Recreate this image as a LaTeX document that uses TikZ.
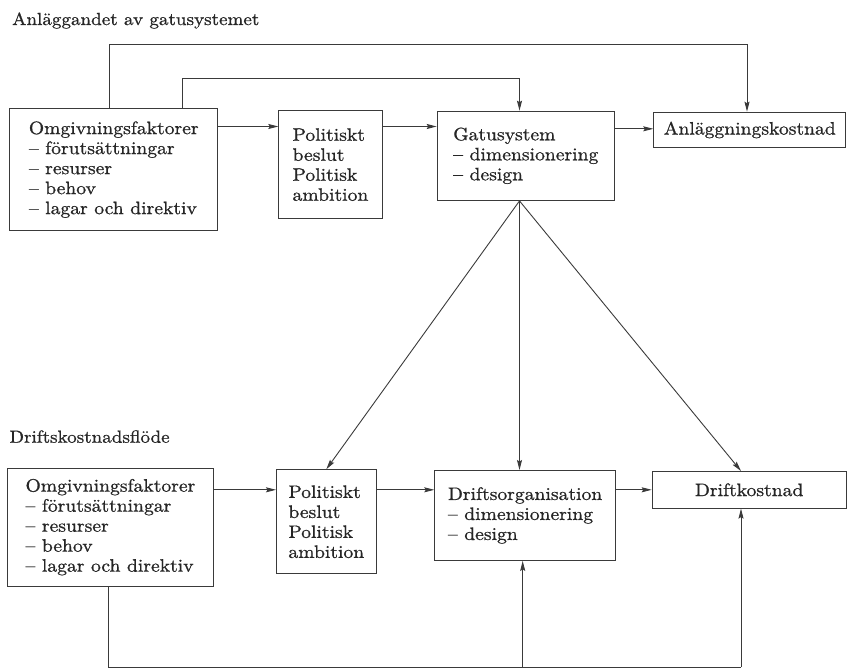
\documentclass[tikz,border=0pt]{standalone}
\usepackage{fontspec}
\setmainfont{lmroman10-regular.otf}[FakeStretch=1.09,FakeBold=0.9]
\usetikzlibrary{arrows.meta,calc}
\definecolor{linecol}{HTML}{3A3A3A}
\definecolor{txtcol}{HTML}{262626}
\begin{document}
\begin{tikzpicture}[x=1pt,y=-1pt,
  font=\fontsize{18}{20}\selectfont,
  box/.style={draw=linecol, line width=0.9pt, rectangle, anchor=north west, inner sep=0pt, align=left, text=txtcol},
  ln/.style={draw=linecol, line width=0.9pt},
  arr/.style={draw=linecol, line width=0.9pt, -{Stealth[length=10pt,width=5pt,inset=1.5pt]}},
  head/.style={anchor=base west, inner sep=0pt, text=txtcol, font=\fontsize{17.5}{20}\selectfont}]
\useasboundingbox (0,0) rectangle (847,669);

% headings
\node[head] (t1) at (12,25) {Anläggandet av gatusystemet};
\node[head] (t2) at (9.3,442.7) {Driftskostnadsflöde};

% top row
\node[box, minimum width=208pt, minimum height=121.7pt] (o1) at (9.3,108.3)
  {Omgivningsfaktorer\\– förutsättningar\\– resurser\\– behov\\– lagar och direktiv};
\node[box, minimum width=103.4pt, minimum height=108.3pt] (p1) at (278.3,110)
  {Politiskt\\beslut\\Politisk\\ambition};
\node[box, minimum width=177.3pt, minimum height=89.3pt] (g1) at (436.7,110.7)
  {Gatusystem\\– dimensionering\\– design};
\node[box, minimum width=192pt, minimum height=35.6pt] (a1) at (653.3,111.7)
  {Anläggningskostnad};

% bottom row
\node[box, minimum width=206.6pt, minimum height=118pt] (o2) at (6.7,467.7)
  {Omgivningsfaktorer\\– förutsättningar\\– resurser\\– behov\\– lagar och direktiv};
\node[box, minimum width=99.7pt, minimum height=104pt] (p2) at (276,469.3)
  {Politiskt\\beslut\\Politisk\\ambition};
\node[box, minimum width=180.7pt, minimum height=90pt] (d2) at (434.3,470)
  {Driftsorganisation\\– dimensionering\\– design};
\node[box, minimum width=194pt, minimum height=36.7pt] (k2) at (651.7,471)
  {Driftkostnad};

% helper coordinates
\coordinate (r1) at (0,126.5);
\coordinate (r2) at (0,128.8);
\coordinate (u1) at (109,44);
\coordinate (u1r) at (747,44);
\coordinate (u2) at (182,78);
\coordinate (u2r) at (519.5,78);
\coordinate (gb) at (g1.south -| u2r);
\coordinate (kx) at (741,0);
\coordinate (dx) at (522.7,0);
\coordinate (b0) at (108.3,667);

% top row connectors
\draw[arr] (o1.east |- r1) -- (p1.west |- r1);
\draw[arr] (p1.east |- r1) -- (g1.west |- r1);
\draw[arr] (g1.east |- r2) -- (a1.west |- r2);
\draw[arr] (o1.north -| u1) -- (u1) -- (u1r) -- (a1.north -| u1r);
\draw[arr] (o1.north -| u2) -- (u2) -- (u2r) -- (g1.north -| u2r);

% diagonals
\draw[arr] (gb) -- (p2.north);
\draw[arr] (gb) -- (d2.north -| gb);
\draw[arr] (gb) -- (k2.north -| kx);

% bottom row connectors
\draw[arr] (o2.east |- k2) -- (p2.west |- k2);
\draw[arr] (p2.east |- k2) -- (d2.west |- k2);
\draw[arr] (d2.east |- k2) -- (k2.west);
\draw[ln] (o2.south -| b0) -- (b0) -- (b0 -| kx);
\draw[arr] (b0 -| dx) -- (d2.south -| dx);
\draw[arr] (b0 -| kx) -- (k2.south -| kx);
\end{tikzpicture}
\end{document}
